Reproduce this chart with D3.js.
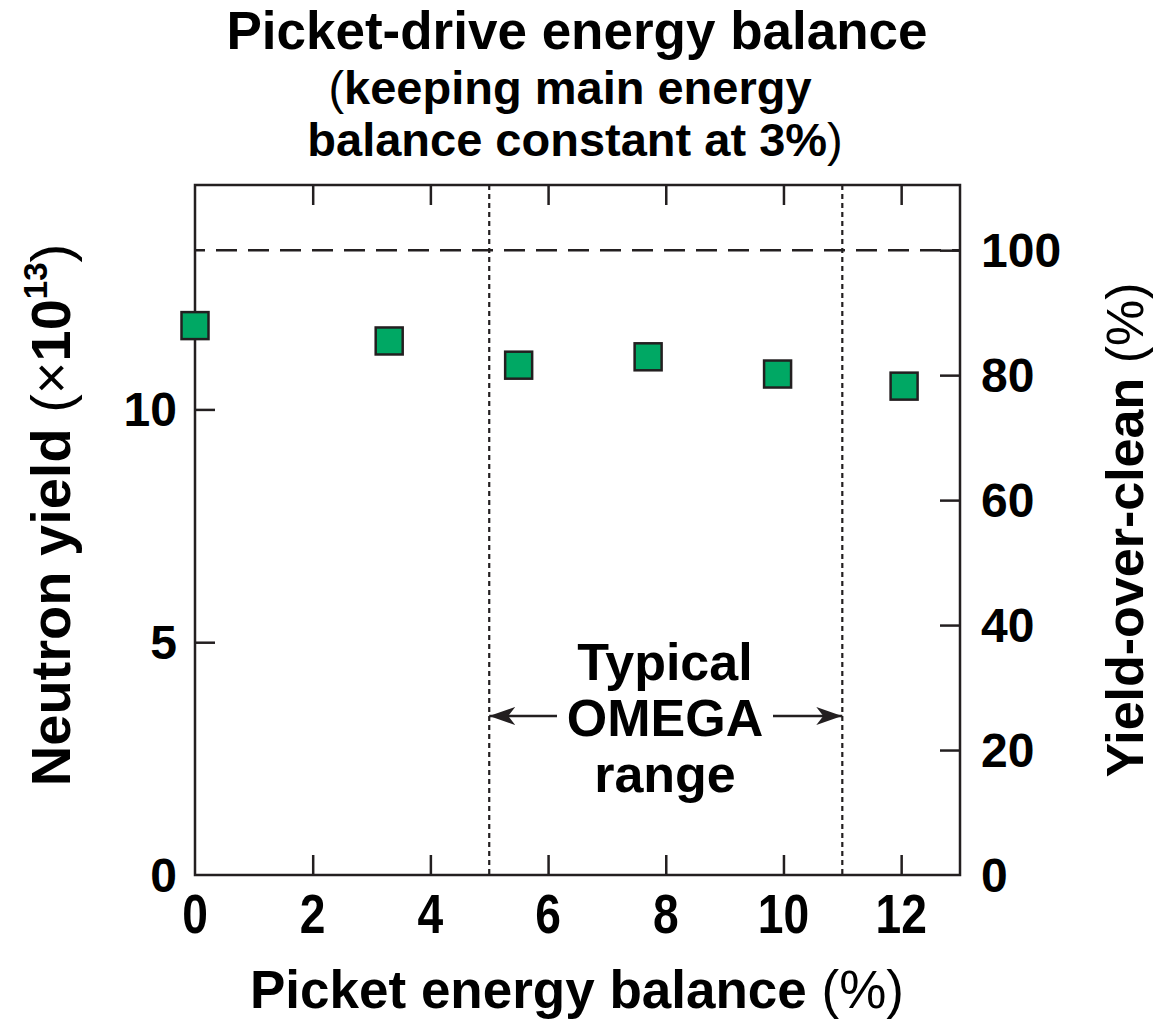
<!DOCTYPE html>
<html>
<head>
<meta charset="utf-8">
<script src="https://cdn.jsdelivr.net/npm/d3@7"></script>
<style>
  body { margin: 0; background: #fff; }
  text { font-family: "Liberation Sans", Arial, Helvetica, sans-serif; font-weight: bold; fill: #000; }
</style>
</head>
<body>
<div id="vis"></div>
<script>
// data
const picketBalance = [0, 3.3, 5.5, 7.7, 9.9, 12.05];      // %
const neutronYield = [11.8, 11.47, 10.95, 11.13, 10.76, 10.5]; // x1e13
const cleanYield = 13.42;                                     // x1e13 = 100 %
const omegaRange = [5, 11];
const xTicks = [0, 2, 4, 6, 8, 10, 12];
const yTicksLeft = [0, 5, 10];
const yTicksRight = [0, 20, 40, 60, 80, 100];

const width = 1153;
const height = 1021;
const m = { left: 195, right: 960, top: 185, bottom: 875 };
const ink = "#231f20";

const svg = d3.select("#vis")
  .append("svg")
  .attr("width", width)
  .attr("height", height);

const x = d3.scaleLinear().domain([0, 13]).range([m.left, m.right]);
const y = d3.scaleLinear().domain([0, 14.82]).range([m.bottom, m.top]);
const yPct = d3.scaleLinear().domain([0, 14.82 / cleanYield * 100]).range([m.bottom, m.top]);

// omega range + clean reference
svg.selectAll(".omega")
  .data(omegaRange)
  .enter()
  .append("line")
  .attr("x1", d => x(d)).attr("x2", d => x(d))
  .attr("y1", m.top).attr("y2", m.bottom)
  .attr("stroke", ink)
  .attr("stroke-width", 2.2)
  .attr("stroke-dasharray", "5,4");

svg.append("line")
  .attr("x1", m.left).attr("x2", m.right)
  .attr("y1", yPct(100)).attr("y2", yPct(100))
  .attr("stroke", ink)
  .attr("stroke-width", 2.5)
  .attr("stroke-dasharray", "21,11")
  .attr("stroke-dashoffset", 11);

// axes, ticks pointing inward
const tickLen = 20;
svg.append("g")
  .attr("transform", `translate(0,${m.bottom})`)
  .call(d3.axisTop(x).tickValues(xTicks.slice(1)).tickSize(tickLen).tickFormat(""));
svg.append("g")
  .attr("transform", `translate(0,${m.top})`)
  .call(d3.axisBottom(x).tickValues(xTicks.slice(1)).tickSize(tickLen).tickFormat(""));
svg.append("g")
  .attr("transform", `translate(${m.left},0)`)
  .call(d3.axisRight(y).tickValues(yTicksLeft.slice(1)).tickSize(tickLen).tickFormat(""));
svg.append("g")
  .attr("transform", `translate(${m.right},0)`)
  .call(d3.axisLeft(yPct).tickValues(yTicksRight.slice(1)).tickSize(tickLen).tickFormat(""));
svg.selectAll(".domain").remove();
svg.selectAll(".tick line").attr("stroke", ink).attr("stroke-width", 2.5);

svg.append("rect")
  .attr("x", m.left).attr("y", m.top)
  .attr("width", m.right - m.left).attr("height", m.bottom - m.top)
  .attr("fill", "none")
  .attr("stroke", ink)
  .attr("stroke-width", 2.5);

// tick labels (x ones are condensed in the original)
svg.selectAll(".xlab")
  .data(xTicks)
  .enter()
  .append("text")
  .attr("transform", d => `translate(${x(d)},933) scale(0.84,1)`)
  .attr("text-anchor", "middle")
  .attr("font-size", 55)
  .text(d => d);

svg.selectAll(".ylab")
  .data(yTicksLeft)
  .enter()
  .append("text")
  .attr("x", 177)
  .attr("y", d => y(d) + 17)
  .attr("text-anchor", "end")
  .attr("font-size", 48)
  .text(d => d);

svg.selectAll(".ypct")
  .data(yTicksRight)
  .enter()
  .append("text")
  .attr("x", 981)
  .attr("y", d => yPct(d) + 17)
  .attr("font-size", 48)
  .text(d => d);

// points
const pts = picketBalance.map((p, i) => ({ p, v: neutronYield[i] }));
const sq = 27;
svg.selectAll(".pt")
  .data(pts)
  .enter()
  .append("rect")
  .attr("x", d => x(d.p) - sq / 2)
  .attr("y", d => y(d.v) - sq / 2)
  .attr("width", sq)
  .attr("height", sq)
  .attr("fill", "#00a864")
  .attr("stroke", ink)
  .attr("stroke-width", 2.5);

// titles
const title = svg.append("g").attr("text-anchor", "middle");
title.append("text").attr("x", 577).attr("y", 49).attr("font-size", 53)
  .text("Picket-drive energy balance");
const t2 = title.append("text").attr("x", 570).attr("y", 104).attr("font-size", 47);
t2.append("tspan").attr("font-weight", "normal").text("(");
t2.append("tspan").text("keeping main energy");
const t3 = title.append("text").attr("x", 575).attr("y", 156).attr("font-size", 47);
t3.append("tspan").text("balance constant at 3%");
t3.append("tspan").attr("font-weight", "normal").text(")");

// axis titles
const xt = svg.append("text")
  .attr("x", 577).attr("y", 1008)
  .attr("text-anchor", "middle")
  .attr("font-size", 53);
xt.append("tspan").text("Picket energy balance ");
xt.append("tspan").attr("font-weight", "normal").text("(%)");

const yl = svg.append("text")
  .attr("transform", "translate(70,515) rotate(-90)")
  .attr("text-anchor", "middle")
  .attr("font-size", 56);
yl.append("tspan").text("Neutron yield ");
yl.append("tspan").attr("font-weight", "normal").text("(\u00d7");
yl.append("tspan").text("10");
yl.append("tspan").attr("font-size", 33).attr("dy", -23).text("13");
yl.append("tspan").attr("font-weight", "normal").attr("dy", 23).text(")");

const yr = svg.append("text")
  .attr("transform", "translate(1143,530) rotate(-90)")
  .attr("text-anchor", "middle")
  .attr("font-size", 52);
yr.append("tspan").text("Yield-over-clean ");
yr.append("tspan").attr("font-weight", "normal").text("(%)");

// annotation
const ann = svg.append("g").attr("text-anchor", "middle").attr("font-size", 52);
["Typical", "OMEGA", "range"].forEach((s, i) => {
  ann.append("text").attr("x", 665).attr("y", 680 + i * 56).text(s);
});

svg.append("defs").append("marker")
  .attr("id", "head")
  .attr("viewBox", "0 0 26 20")
  .attr("refX", 26).attr("refY", 10)
  .attr("markerWidth", 26).attr("markerHeight", 20)
  .attr("markerUnits", "userSpaceOnUse")
  .attr("orient", "auto")
  .append("path")
  .attr("d", "M0,1 L26,10 L0,19 L7,10 Z")
  .attr("fill", ink);

const arrowY = 716;
[[557, omegaRange[0]], [773, omegaRange[1]]].forEach(([from, to]) => {
  svg.append("line")
    .attr("x1", from).attr("x2", x(to))
    .attr("y1", arrowY).attr("y2", arrowY)
    .attr("stroke", ink)
    .attr("stroke-width", 2.5)
    .attr("marker-end", "url(#head)");
});
</script>
</body>
</html>
